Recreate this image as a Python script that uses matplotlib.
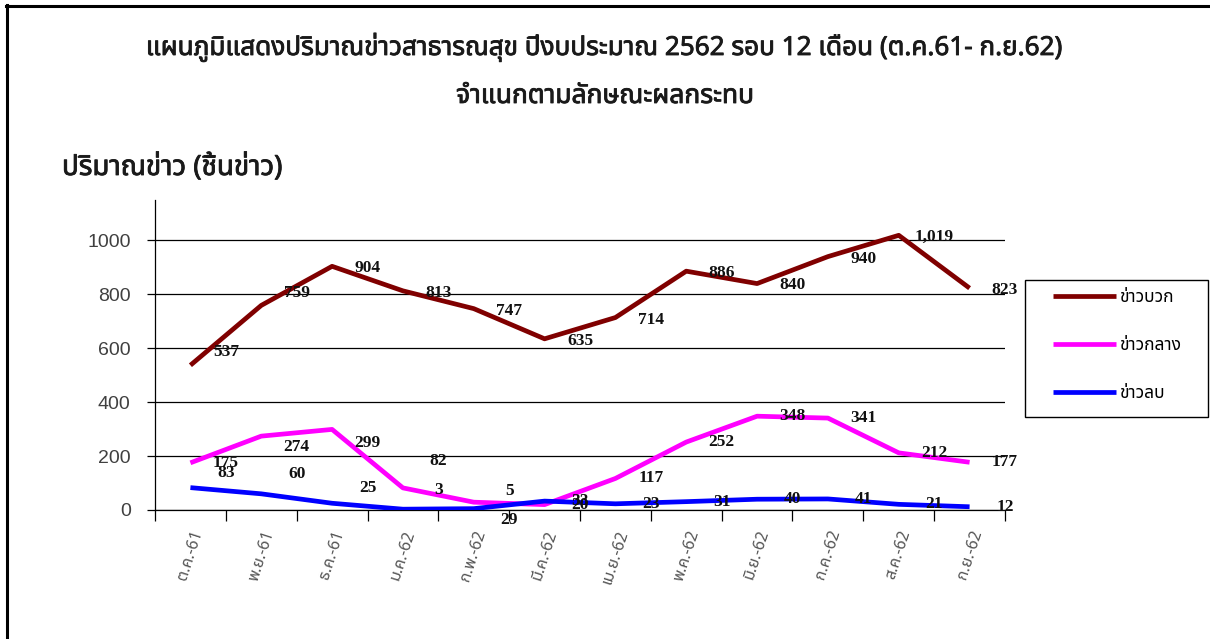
import matplotlib
matplotlib.use('Agg')
from matplotlib import pyplot as plt
from matplotlib import font_manager
from matplotlib import patheffects
from matplotlib.patches import Rectangle
from fontTools.ttLib import TTFont

months = ['ต.ค.-61', 'พ.ย.-61', 'ธ.ค.-61', 'ม.ค.-62', 'ก.พ.-62', 'มี.ค.-62',
          'เม.ย.-62', 'พ.ค.-62', 'มิ.ย.-62', 'ก.ค.-62', 'ส.ค.-62', 'ก.ย.-62']
positive = [537, 759, 904, 813, 747, 635, 714, 886, 840, 940, 1019, 823]
neutral = [175, 274, 299, 82, 29, 20, 117, 252, 348, 341, 212, 177]
negative = [83, 60, 25, 3, 5, 33, 23, 31, 40, 41, 21, 12]
series_names = ['ข่าวบวก', 'ข่าวกลาง', 'ข่าวลบ']
yticks = [0, 200, 400, 600, 800, 1000]

title = 'แผนภูมิแสดงปริมาณข่าวสาธารณสุข ปีงบประมาณ 2562 รอบ 12 เดือน (ต.ค.61- ก.ย.62)'
subtitle = 'จำแนกตามลักษณะผลกระทบ'
ylabel = 'ปริมาณข่าว (ชิ้นข่าว)'


def find_thai_font():
    # look for any installed font that has thai glyphs
    found = []
    for f in font_manager.fontManager.ttflist:
        try:
            cmap = TTFont(f.fname, fontNumber=0, lazy=True).getBestCmap()
        except Exception:
            continue
        if cmap and 0x0E02 in cmap and 0x0E33 in cmap:
            found.append(f.name)
    for pref in ['Tahoma', 'Noto Sans Thai', 'Noto Sans Thai UI', 'Loma', 'Garuda', 'Tlwg Typo']:
        if pref in found:
            return pref
    if found:
        return found[0]
    return 'DejaVu Sans'


THAI = find_thai_font()
plt.rcParams['font.family'] = [THAI, 'DejaVu Sans']

W, H = 1210, 639
fig = plt.figure(figsize=(W / 100, H / 100), dpi=100)


def fx(px):
    return px / W


def fy(py):
    return 1 - py / H


# fake bold, the thai font may only come in one weight
heavy = [patheffects.withStroke(linewidth=0.6, foreground='#1a1a1a')]

ax = fig.add_axes([fx(155), fy(510), fx(1005) - fx(155), fy(200) - fy(510)])

x = list(range(len(months)))
colors = ['#800000', '#ff00ff', '#0000ff']
all_series = [positive, neutral, negative]

for vals, c, name in zip(all_series, colors, series_names):
    ax.plot(x, vals, color=c, lw=3.4, solid_capstyle='butt', label=name, zorder=3)

# label nudges in pixels (down is positive), labels sit half a category right
nudges = [
    [-13, -12, 2, 2, 2, 2, 2, 2, 1, 2, 2, 2],
    [0, 11, 14, -27, 18, 0, 0, 0, 0, 0, 0, 0],
    [-15, -20, -15, -19, -18, 0, 0, 0, 0, 0, 0, 0],
]
for vals, nd in zip(all_series, nudges):
    for i, v in enumerate(vals):
        ax.annotate(f'{v:,}', (i + 0.5, v), xytext=(0, -nd[i] * 0.72),
                    textcoords='offset points', ha='center', va='center',
                    family='Liberation Serif', fontweight='bold', fontsize=12.5,
                    color='#111111', zorder=4, annotation_clip=False)

ax.set_xlim(-0.5, len(months) - 0.5)
ax.set_ylim(0, 1150)
ax.set_yticks(yticks)
ax.set_yticklabels([str(t) for t in yticks], family='Liberation Sans', fontsize=14, color='#404040')
ax.yaxis.grid(True, color='black', lw=0.9)
ax.set_axisbelow(True)

ax.set_xticks(x)
ax.set_xticklabels(months, rotation=72, ha='center', va='top', fontsize=11.5,
                   color='#555555', style='italic')
ax.set_xticks([i - 0.5 for i in range(len(months) + 1)], minor=True)
ax.tick_params(axis='x', which='major', length=0, pad=13)
ax.tick_params(axis='x', which='minor', length=8, width=0.9, direction='out')
ax.tick_params(axis='y', length=6, width=0.9, direction='out', pad=11.5)

for s in ['top', 'right']:
    ax.spines[s].set_visible(False)
for s in ['left', 'bottom']:
    ax.spines[s].set_linewidth(0.9)

fig.text(0.5, fy(47), title, ha='center', va='center', fontsize=18.8,
         color='#1a1a1a', path_effects=heavy)
fig.text(0.5, fy(96), subtitle, ha='center', va='center', fontsize=19,
         color='#1a1a1a', path_effects=heavy)
fig.text(fx(62), fy(168), ylabel, ha='left', va='center', fontsize=20,
         color='#1a1a1a', path_effects=heavy)

handles, labels = ax.get_legend_handles_labels()
leg = fig.legend(handles, labels, loc='center left', bbox_to_anchor=(fx(1053), fy(345)),
                 frameon=False, fontsize=12.5, handlelength=3.6, handletextpad=0.2,
                 labelspacing=1.75, borderpad=0, borderaxespad=0)
for ln in leg.get_lines():
    ln.set_linewidth(3.4)
fig.patches.append(Rectangle((fx(1025), fy(417)), fx(1208) - fx(1025), fy(280) - fy(417),
                             transform=fig.transFigure, fill=False, edgecolor='black', lw=1))

# outer frame of the original picture (top and left only)
fig.add_artist(plt.Line2D([fx(6), 1], [fy(6), fy(6)], color='black', lw=2.2, transform=fig.transFigure))
fig.add_artist(plt.Line2D([fx(7), fx(7)], [fy(5), 0], color='black', lw=2.2, transform=fig.transFigure))

fig.savefig('out.png', dpi=100)
